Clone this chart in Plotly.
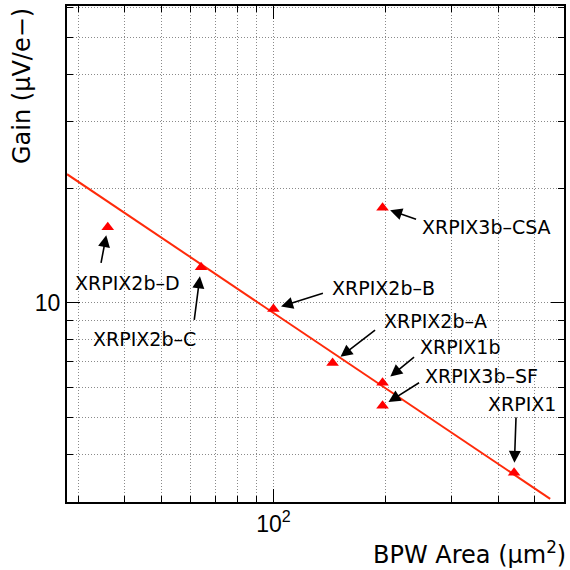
import numpy as np
import plotly.graph_objects as go

# ---- data ----
chip_names = ["XRPIX1", "XRPIX1b", "XRPIX2b–A", "XRPIX2b–B",
              "XRPIX2b–C", "XRPIX2b–D", "XRPIX3b–CSA", "XRPIX3b–SF"]
bpw_area = [441, 196, 144, 100, 64, 36, 196, 196]          # µm^2
gain = [3.57, 6.16, 6.95, 9.64, 12.4, 15.8, 17.8, 5.36]     # µV/e-

fit_area = [28, 551]
fit_gain = [21.8, 3.05]

# label placement (pixel offsets from each point): arrow tail (ax, ay), text shift, standoff
arrow_tail = [(2, -57), (33, -27), (44, -34), (51, -16),
              (-7, 54), (-7, 37), (35, 12), (38, -24)]
text_shift = [(8, 69), (77, 36), (103, 42), (110, 21),
              (-57, -72), (20, -56), (104, -19), (99, 30)]
standoffs = [10, 10, 10, 8, 9, 8, 8, 7]

LABEL_FONT = "DejaVu Sans"
TICK_FONT = "Liberation Sans"
GRID = dict(showgrid=True, gridcolor="#8a8a8a", gridwidth=1, griddash="1px,2px")

fig = go.Figure()
fig.add_trace(go.Scatter(x=fit_area, y=fit_gain, mode="lines",
                         line=dict(color="#ff2a0a", width=2), hoverinfo="skip"))
fig.add_trace(go.Scatter(x=bpw_area, y=gain, mode="markers",
                         marker=dict(symbol="triangle-up", size=11, color="#ff0000",
                                     line=dict(width=0))))

annotations = []
for name, xa, ya, (tx, ty), (sx, sy), so in zip(chip_names, bpw_area, gain,
                                               arrow_tail, text_shift, standoffs):
    lx, ly = np.log10(xa), np.log10(ya)
    annotations.append(dict(x=lx, y=ly, xref="x", yref="y", text="",
                            showarrow=True, ax=tx, ay=ty, arrowhead=2, arrowsize=1.5,
                            arrowwidth=1.6, arrowcolor="black", standoff=so))
    annotations.append(dict(x=lx, y=ly, xref="x", yref="y", text=name,
                            showarrow=False, xshift=sx, yshift=sy,
                            font=dict(family=LABEL_FONT, size=19, color="black")))

annotations.append(dict(x=1.0, y=0, xref="paper", yref="paper", yshift=-33, xshift=4,
                        xanchor="right", yanchor="top", showarrow=False,
                        text="BPW Area (µm<sup>2</sup>)",
                        font=dict(family=LABEL_FONT, size=24, color="black")))
annotations.append(dict(x=0, y=1.0, xref="paper", yref="paper", xshift=-45,
                        xanchor="center", yanchor="top", showarrow=False, textangle=-90,
                        text="Gain (µV/e−)",
                        font=dict(family=LABEL_FONT, size=24, color="black")))

axis_common = dict(showline=True, linecolor="black", linewidth=2, mirror="allticks",
                   ticks="inside", ticklen=13, tickwidth=1, tickcolor="black",
                   zeroline=False, tickfont=dict(family=TICK_FONT, size=23, color="black"),
                   **GRID)
minor_common = dict(dtick="D1", ticks="inside", ticklen=6, tickcolor="black", **GRID)

fig.update_xaxes(type="log", range=[np.log10(28), np.log10(600)],
                 tickvals=[100], ticktext=["10<sup>2</sup>"],
                 minor=minor_common, **axis_common)
fig.update_yaxes(type="log", range=[0.476, 1.781],
                 tickvals=[10], ticktext=["10"],
                 minor=minor_common, **axis_common)

fig.update_layout(width=570, height=570, showlegend=False,
                  margin=dict(l=67, r=4, t=5, b=68),
                  paper_bgcolor="white", plot_bgcolor="white",
                  annotations=annotations)

fig.write_html("out.html", config={"displayModeBar": False},
               post_script="document.body.style.margin='0';document.body.style.overflow='hidden';")
